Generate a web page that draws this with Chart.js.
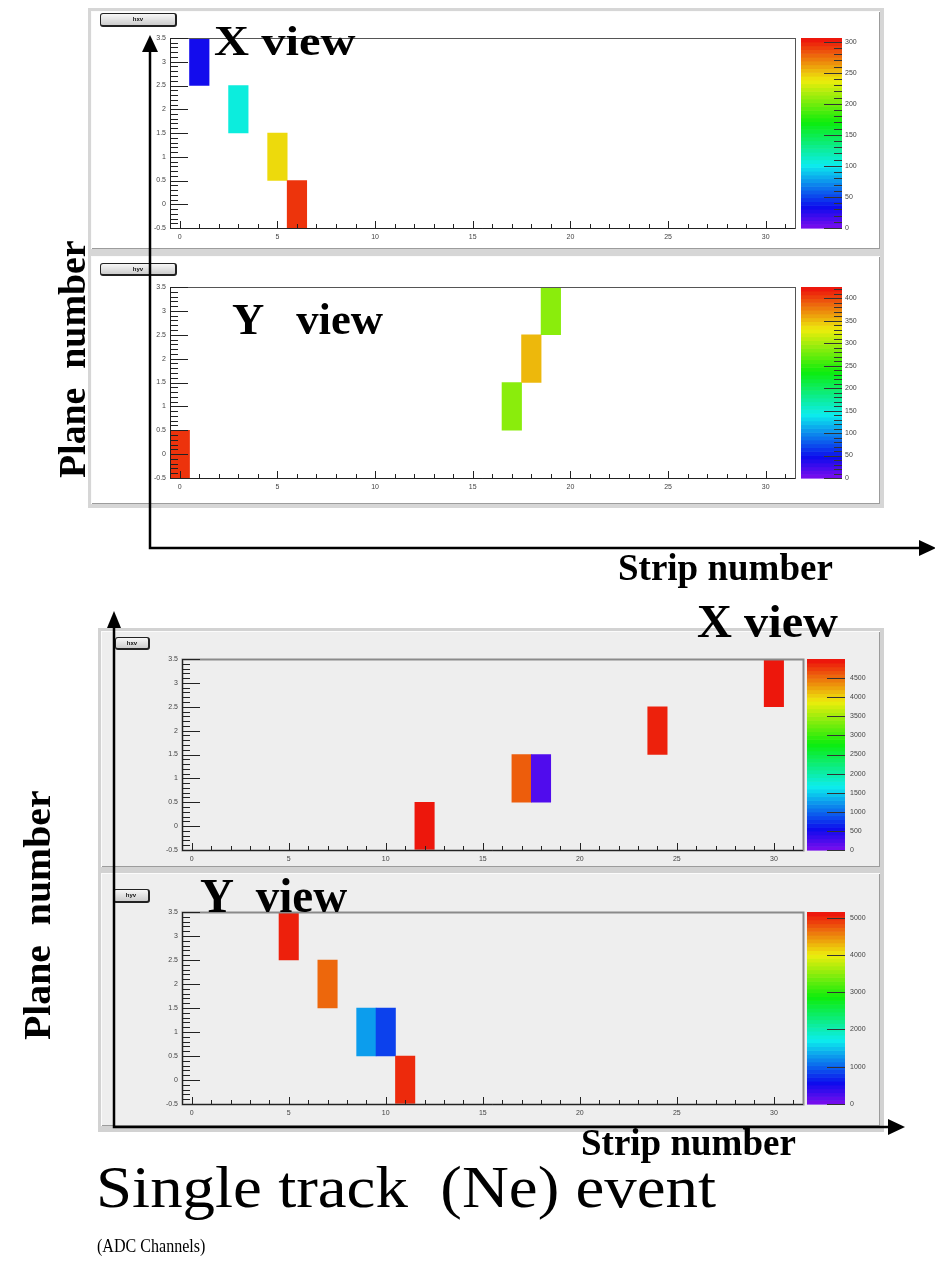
<!DOCTYPE html>
<html>
<head>
<meta charset="utf-8">
<title>Single track (Ne) event</title>
<script src="https://cdn.jsdelivr.net/npm/chart.js@4.4.1/dist/chart.umd.min.js"></script>
<style>
body{ margin:0; background:#fff; width:935px; height:1261px; position:relative; overflow:hidden; }
.sheet{ position:absolute; background:#d6d6d6; }
.pad{ position:absolute; box-shadow: inset 1px 1px 0 #fbfbfb, inset -1px -1px 0 #9c9c9c; }
.pad canvas{ display:block; }
.hname{ position:absolute; box-sizing:border-box; border:1px solid #222; border-right-width:2px; border-bottom-width:2px;
  border-radius:3px; background:linear-gradient(#f7f7f7,#cdcdcd); font:bold 6px "Liberation Sans",sans-serif;
  color:#111; text-align:center; line-height:10px; }
.lbl{ position:absolute; left:0; top:0; transform-origin:0 0; white-space:pre; line-height:1;
  font-family:"Liberation Serif","DejaVu Serif",serif; color:#000; }
.b{ font-weight:bold; }
svg{ position:absolute; left:0; top:0; }
</style>
</head>
<body>

<div class="sheet" style="left:88px;top:8px;width:796px;height:500px"></div>
<div class="pad" style="left:91px;top:11px;width:789px;height:238px;background:#fff">
  <canvas id="upperX"></canvas>
  <div class="hname" style="left:9px;top:2px;width:77px;height:14px">hxv</div>
</div>
<div class="pad" style="left:91px;top:256px;width:789px;height:248px;background:#fff">
  <canvas id="upperY"></canvas>
  <div class="hname" style="left:9px;top:7px;width:77px;height:13px">hyv</div>
</div>

<div class="sheet" style="left:98px;top:628px;width:786px;height:504px;background:#d2d2d2"></div>
<div class="pad" style="left:101px;top:631px;width:779px;height:236px;background:#eeeeee">
  <canvas id="lowerX"></canvas>
  <div class="hname" style="left:14px;top:6px;width:35px;height:13px">hxv</div>
</div>
<div class="pad" style="left:101px;top:873px;width:779px;height:253px;background:#eeeeee">
  <canvas id="lowerY"></canvas>
  <div class="hname" style="left:12px;top:16px;width:37px;height:14px">hyv</div>
</div>

<svg width="935" height="1261">
  <g stroke="#000" stroke-width="2.5" fill="none">
    <polyline points="150,48 150,548 921,548"/>
    <polyline points="114,624 114,1127 890,1127"/>
  </g>
  <g fill="#000">
    <polygon points="150,35 142,52 158,52"/>
    <polygon points="936,548 919,540 919,556"/>
    <polygon points="114,611 107,628 121,628"/>
    <polygon points="905,1127 888,1119 888,1135"/>
  </g>
</svg>

<div class="lbl b" style="font-size:43px" data-x="214" data-y="19" data-w="141">X view</div>
<div class="lbl b" style="font-size:45px" data-x="232" data-y="297" data-w="151">Y   view</div>
<div class="lbl b" style="font-size:38px" data-x="53" data-y="478" data-w="238" data-rot="1">Plane  number</div>
<div class="lbl b" style="font-size:37px" data-x="618" data-y="549" data-w="215">Strip number</div>
<div class="lbl b" style="font-size:47px" data-x="697" data-y="598" data-w="141">X view</div>
<div class="lbl b" style="font-size:48px" data-x="200" data-y="872" data-w="147">Y  view</div>
<div class="lbl b" style="font-size:38px" data-x="18" data-y="1040" data-w="250" data-rot="1">Plane  number</div>
<div class="lbl b" style="font-size:37px" data-x="581" data-y="1124" data-w="215">Strip number</div>
<div class="lbl" style="font-size:60px" data-x="96" data-y="1157" data-w="620">Single track  (Ne) event</div>
<div class="lbl" style="font-size:18px" data-x="97" data-y="1237" data-w="108">(ADC Channels)</div>

<script>
// strip numbers along x, plane numbers along y
const strips = [0,1,2,3,4,5,6,7,8,9,10,11,12,13,14,15,16,17,18,19,20,21,22,23,24,25,26,27,28,29,30,31];
const planeTicks = [-0.5, 0, 0.5, 1, 1.5, 2, 2.5, 3, 3.5];

// upper event, X view
const upperXStrips = [1, 3, 5, 6];
const upperXPlanes = [3, 2, 1, 0];
const upperXAdc = [32, 107, 244, 294];
const upperXScale = [0, 50, 100, 150, 200, 250, 300];
const upperXMax = 306;

// upper event, Y view
const upperYStrips = [0, 17, 18, 19];
const upperYPlanes = [0, 1, 2, 3];
const upperYAdc = [409, 289, 353, 289];
const upperYScale = [0, 50, 100, 150, 200, 250, 300, 350, 400];
const upperYMax = 425;

// lower event, X view
const lowerXStrips = [12, 17, 18, 24, 30];
const lowerXPlanes = [0, 1, 1, 2, 3];
const lowerXAdc = [4950, 4600, 220, 4900, 4950];
const lowerXScale = [0, 500, 1000, 1500, 2000, 2500, 3000, 3500, 4000, 4500];
const lowerXMax = 5000;

// lower event, Y view
const lowerYStrips = [5, 7, 9, 10, 11];
const lowerYPlanes = [3, 2, 1, 1, 0];
const lowerYAdc = [5050, 4690, 1310, 840, 5000];
const lowerYScale = [0, 1000, 2000, 3000, 4000, 5000];
const lowerYMax = 5150;

const tickFont = { family: '"Liberation Sans", sans-serif', size: 7 };

// rainbow palette, violet at 0 up to red at the top
function adcColour(frac){
    const f = Math.max(0, Math.min(1, frac));
    const hue = 270 * (1 - f);
    return `hsl(${hue}, 90%, 49%)`;
}

// fixed axis sizes, and no extra label padding pushed into the layout
function fixSize(s, w, h){
    if(w !== null) s.width = w;
    if(h !== null) s.height = h;
    s.paddingTop = 0;
    s.paddingBottom = 0;
    s.paddingLeft = 0;
    s.paddingRight = 0;
}

// palette bar, frame and the inward ticks
function rootDecor(zTicks, zMax, lay){
    return {
        id: 'rootDecor',
        afterDraw(chart){
            const ctx = chart.ctx;
            const a = chart.chartArea;
            const x = chart.scales.x;
            const y = chart.scales.y;
            const z = chart.scales.z;

            ctx.save();

            const bx = a.right + lay.barGap;
            for(let k = 0; k < 50; k++){
                const t0 = z.getPixelForValue(zMax * k / 50);
                const t1 = z.getPixelForValue(zMax * (k + 1) / 50);
                ctx.fillStyle = adcColour((k + 0.5) / 50);
                ctx.fillRect(bx, t1, lay.barW, t0 - t1 + 0.6);
            }

            ctx.strokeStyle = '#333';
            ctx.lineWidth = 1;
            ctx.beginPath();
            zTicks.forEach(v => {
                const py = Math.round(z.getPixelForValue(v)) + 0.5;
                ctx.moveTo(bx + lay.barW, py);
                ctx.lineTo(bx + lay.barW - 18, py);
            });
            if(lay.zMinor){
                for(let v = 0; v <= zMax; v += lay.zMinor){
                    const py = Math.round(z.getPixelForValue(v)) + 0.5;
                    ctx.moveTo(bx + lay.barW, py);
                    ctx.lineTo(bx + lay.barW - 8, py);
                }
            }
            ctx.stroke();

            // frame round the plot
            ctx.strokeStyle = lay.frame;
            ctx.lineWidth = lay.frameW;
            ctx.strokeRect(a.left + 0.5, a.top + 0.5, a.right - a.left, a.bottom - a.top);

            ctx.strokeStyle = '#222';
            ctx.lineWidth = 1;
            ctx.beginPath();
            ctx.moveTo(a.left + 0.5, a.top);
            ctx.lineTo(a.left + 0.5, a.bottom + 0.5);
            ctx.lineTo(a.right, a.bottom + 0.5);

            for(let i = 0; i < strips.length; i++){
                const px = Math.round(x.getPixelForValue(i)) + 0.5;
                const len = strips[i] % 5 === 0 ? 7 : 4;
                ctx.moveTo(px, a.bottom);
                ctx.lineTo(px, a.bottom - len);
            }
            for(let k = 0; k <= 40; k++){
                const py = Math.round(y.getPixelForValue(-0.5 + k * 0.1)) + 0.5;
                const len = k % 5 === 0 ? 18 : 8;
                ctx.moveTo(a.left, py);
                ctx.lineTo(a.left + len, py);
            }
            ctx.stroke();

            ctx.restore();
        }
    };
}

function makePanel(canvasId, cellStrips, cellPlanes, adc, zTicks, zMax, lay){

    const cells =
    cellStrips.map((s, i) => ({ x: s, y: [cellPlanes[i] - 0.5, cellPlanes[i] + 0.5] }));

    return new Chart(document.getElementById(canvasId), {
        type: 'bar',
        data: {
            labels: strips,
            datasets: [{
                data: cells,
                backgroundColor: adc.map(v => adcColour(v / zMax)),
                categoryPercentage: 1,
                barPercentage: 1,
                borderWidth: 0
            }]
        },
        options: {
            responsive: true,
            maintainAspectRatio: false,
            animation: false,
            layout: { padding: { top: lay.top, left: 0, right: 0, bottom: 0 } },
            plugins: {
                legend: { display: false },
                tooltip: { enabled: false }
            },
            scales: {
                x: {
                    type: 'category',
                    offset: true,
                    grid: { display: false, drawTicks: false },
                    border: { color: '#222' },
                    ticks: {
                        autoSkip: false, maxRotation: 0, padding: 5,
                        font: tickFont, color: '#444',
                        callback(v){ return strips[v] % 5 === 0 ? String(strips[v]) : ''; }
                    },
                    afterFit(s){ fixSize(s, null, lay.bottom); }
                },
                y: {
                    type: 'linear',
                    min: -0.5,
                    max: 3.5,
                    grid: { display: false, drawTicks: false },
                    border: { color: '#222' },
                    ticks: { padding: 4, font: tickFont, color: '#444', callback: v => String(v) },
                    afterBuildTicks(s){ s.ticks = planeTicks.map(v => ({ value: v })); },
                    afterFit(s){ fixSize(s, lay.left, null); }
                },
                z: {
                    type: 'linear',
                    position: 'right',
                    min: 0,
                    max: zMax,
                    grid: { display: false, drawTicks: false },
                    border: { display: false },
                    ticks: { padding: lay.zPad, font: tickFont, color: '#444', callback: v => String(v) },
                    afterBuildTicks(s){ s.ticks = zTicks.map(v => ({ value: v })); },
                    afterFit(s){ fixSize(s, lay.right, null); }
                }
            }
        },
        plugins: [rootDecor(zTicks, zMax, lay)]
    });
}

makePanel('upperX', upperXStrips, upperXPlanes, upperXAdc, upperXScale, upperXMax,
    { left: 79, right: 85, top: 27, bottom: 21, barGap: 6, barW: 41, zPad: 50, zMinor: 10, frame: '#555', frameW: 1 });

makePanel('upperY', upperYStrips, upperYPlanes, upperYAdc, upperYScale, upperYMax,
    { left: 79, right: 85, top: 31, bottom: 26, barGap: 6, barW: 41, zPad: 50, zMinor: 10, frame: '#555', frameW: 1 });

makePanel('lowerX', lowerXStrips, lowerXPlanes, lowerXAdc, lowerXScale, lowerXMax,
    { left: 81, right: 77, top: 28, bottom: 17, barGap: 4, barW: 38, zPad: 47, zMinor: 0, frame: '#8a8a8a', frameW: 2 });

makePanel('lowerY', lowerYStrips, lowerYPlanes, lowerYAdc, lowerYScale, lowerYMax,
    { left: 81, right: 77, top: 39, bottom: 22, barGap: 4, barW: 38, zPad: 47, zMinor: 0, frame: '#8a8a8a', frameW: 2 });

// stretch each caption to its width and put it in place
function placeText(el){
    const s = Number(el.dataset.w) / el.offsetWidth;
    const rot = el.dataset.rot ? ' rotate(-90deg)' : '';
    el.style.transform =
    `translate(${el.dataset.x}px, ${el.dataset.y}px)${rot} scaleX(${s})`;
}

document.querySelectorAll('.lbl').forEach(placeText);
</script>
</body>
</html>
